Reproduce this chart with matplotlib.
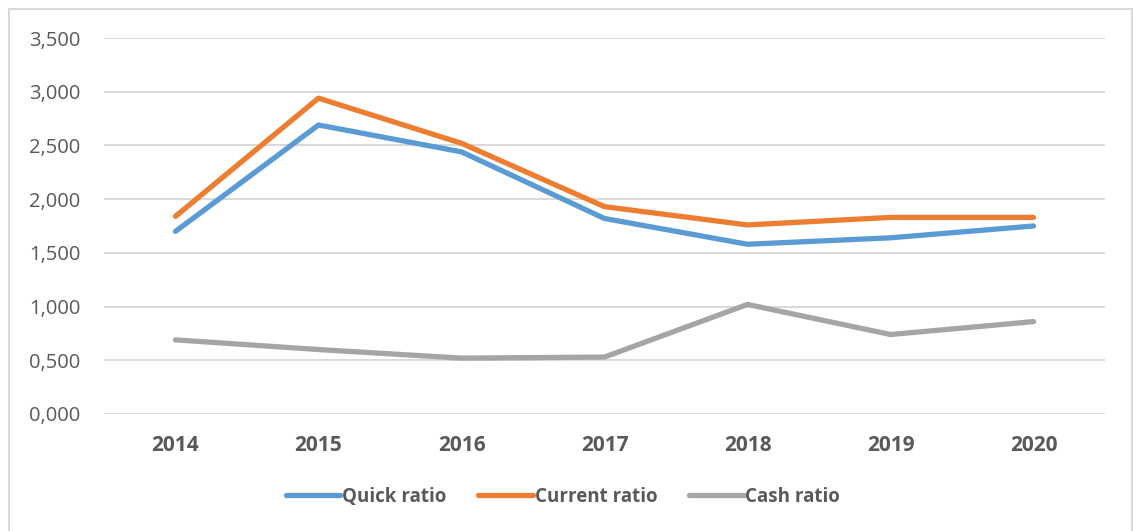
import matplotlib.pyplot as plt
from matplotlib.patches import Rectangle
from matplotlib.ticker import FuncFormatter, MultipleLocator
import numpy as np

years = ["2014", "2015", "2016", "2017", "2018", "2019", "2020"]
quick_ratio = [1.70, 2.69, 2.44, 1.82, 1.58, 1.64, 1.75]
current_ratio = [1.84, 2.94, 2.52, 1.93, 1.76, 1.83, 1.83]
cash_ratio = [0.69, 0.60, 0.52, 0.53, 1.02, 0.74, 0.86]

plt.rcParams["font.family"] = ["Open Sans", "DejaVu Sans"]
TXT = "#595959"

fig = plt.figure(figsize=(11.33, 5.31), dpi=100)
ax = fig.add_axes([104 / 1133, 1 - 414 / 531, 1001 / 1133, 376 / 531])

x = np.arange(len(years))
ax.plot(x, quick_ratio, color="#5B9BD5", lw=3.8, solid_capstyle="round", label="Quick ratio")
ax.plot(x, current_ratio, color="#ED7D31", lw=3.8, solid_capstyle="round", label="Current ratio")
ax.plot(x, cash_ratio, color="#A5A5A5", lw=3.8, solid_capstyle="round", label="Cash ratio")

ax.set_xlim(-0.5, len(years) - 0.5)
ax.set_ylim(0, 3.5)
ax.yaxis.set_major_locator(MultipleLocator(0.5))
ax.yaxis.set_major_formatter(FuncFormatter(lambda v, _: f"{v:.3f}".replace(".", ",")))
ax.grid(axis="y", color="#D9D9D9", lw=1.4)
ax.set_axisbelow(True)
for s in ax.spines.values():
    s.set_visible(False)

ax.set_xticks(x, years)
ax.tick_params(axis="x", length=0, pad=15, labelsize=15, labelcolor=TXT)
for lab in ax.get_xticklabels():
    lab.set_fontweight("bold")
ax.tick_params(axis="y", length=0, pad=17, labelsize=14.5, labelcolor=TXT)

leg = fig.legend(loc="center", bbox_to_anchor=(0.497, 1 - 497 / 531), ncol=3,
                 frameon=False, handlelength=2.9, handletextpad=0.1,
                 columnspacing=1.7, prop={"weight": "bold", "size": 13.5})
for t in leg.get_texts():
    t.set_color(TXT)

fig.patches.append(Rectangle((9 / 1133, -0.02), 1123 / 1133, 1 - 9 / 531 + 0.02,
                             transform=fig.transFigure, fill=False,
                             edgecolor="#D9D9D9", lw=1.4))

fig.savefig("out.png", dpi=100)
